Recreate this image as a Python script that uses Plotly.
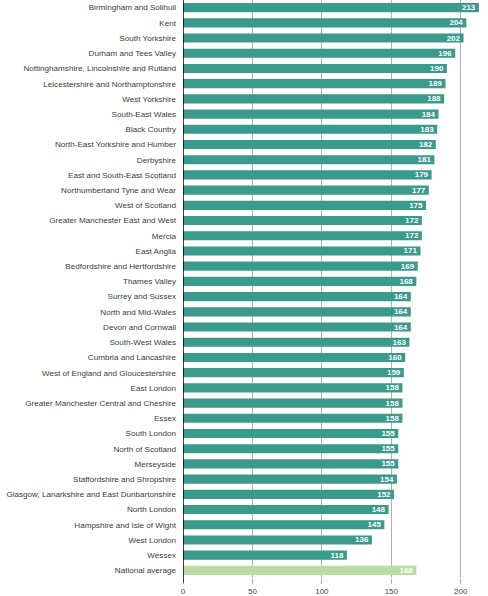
import plotly.graph_objects as go

areas = [
    "Birmingham and Solihull", "Kent", "South Yorkshire", "Durham and Tees Valley",
    "Nottinghamshire, Lincolnshire and Rutland", "Leicestershire and Northamptonshire",
    "West Yorkshire", "South-East Wales", "Black Country", "North-East Yorkshire and Humber",
    "Derbyshire", "East and South-East Scotland", "Northumberland Tyne and Wear",
    "West of Scotland", "Greater Manchester East and West", "Mercia", "East Anglia",
    "Bedfordshire and Hertfordshire", "Thames Valley", "Surrey and Sussex",
    "North and Mid-Wales", "Devon and Cornwall", "South-West Wales",
    "Cumbria and Lancashire", "West of England and Gloucestershire", "East London",
    "Greater Manchester Central and Cheshire", "Essex", "South London",
    "North of Scotland", "Merseyside", "Staffordshire and Shropshire",
    "Glasgow, Lanarkshire and East Dunbartonshire", "North London",
    "Hampshire and Isle of Wight", "West London", "Wessex", "National average",
]
values = [213, 204, 202, 196, 190, 189, 188, 184, 183, 182, 181, 179, 177, 175,
          172, 172, 171, 169, 168, 164, 164, 164, 163, 160, 159, 158, 158, 158,
          155, 155, 155, 154, 152, 148, 145, 136, 118, 168]
x_ticks = [0, 50, 100, 150, 200]

TEAL = "#3a9a8b"
GREEN = "#b9dca0"
colors = [TEAL] * (len(values) - 1) + [GREEN]

fig = go.Figure(go.Bar(
    y=areas, x=values, orientation="h",
    marker=dict(color=colors, line=dict(width=0)),
    text=["<b>%d</b>" % v for v in values],
    textposition="inside", insidetextanchor="end",
    textfont=dict(color="white", size=8, family="Liberation Sans, Arial, sans-serif"),
    textangle=0,
    width=0.6,
    cliponaxis=False,
))

fig.add_shape(type="line", xref="x", yref="paper", x0=0, x1=0, y0=-0.008, y1=1,
              line=dict(color="black", width=1.5))

fig.update_layout(
    width=488, height=596,
    margin=dict(l=183, r=0, t=0, b=18, autoexpand=False),
    plot_bgcolor="white", paper_bgcolor="white",
    showlegend=False,
    uniformtext=dict(minsize=7, mode="show"),
    font=dict(family="Liberation Sans, Arial, sans-serif", size=9, color="#333333"),
)
fig.update_xaxes(
    range=[0, 219.6], tickvals=x_ticks, ticktext=[str(t) for t in x_ticks],
    showgrid=True, gridcolor="#b0b0b0", gridwidth=1,
    ticks="outside", ticklen=5, tickcolor="#b0b0b0",
    zeroline=False, showline=False, automargin=False,
    tickfont=dict(size=8, color="#444444"),
)
fig.update_yaxes(
    autorange="reversed", showgrid=False,
    showline=False, automargin=False,
    ticks="", ticklabelstandoff=6,
    tickfont=dict(size=8.1, color="#3a3a3a"),
)

fig.write_html(
    "out.html",
    config={"displayModeBar": False},
    post_script="document.body.style.margin='0';document.body.style.overflow='hidden';",
)
